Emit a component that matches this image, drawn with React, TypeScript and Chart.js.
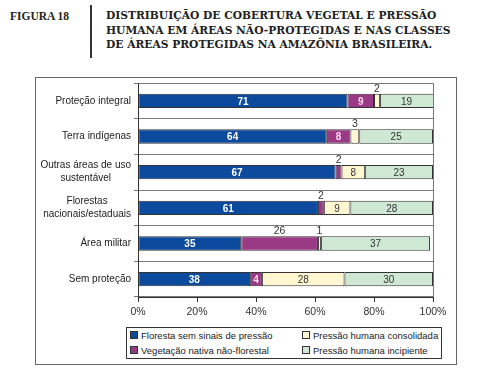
import React, { useEffect, useRef } from "react";
import { Chart, registerables } from "chart.js";
Chart.register(...registerables);

const categories: string[][] = [
  ["Proteção integral"],
  ["Terra indígenas"],
  ["Outras áreas de uso", "sustentável"],
  ["Florestas", "nacionais/estaduais"],
  ["Área militar"],
  ["Sem proteção"],
];
const seriesNames = [
  "Floresta sem sinais de pressão",
  "Vegetação nativa não-florestal",
  "Pressão humana consolidada",
  "Pressão humana incipiente",
];
const floresta = [71, 64, 67, 61, 35, 38];
const vegetacao = [9, 8, 2, 2, 26, 4];
const consolidada = [2, 3, 8, 9, 1, 28];
const incipiente = [19, 25, 23, 28, 37, 30];
const xTickLabels = ["0%", "20%", "40%", "60%", "80%", "100%"];

const fills = ["#0c4a9e", "#9a3a84", "#fff7d2", "#cfe8d4"];
const labelColors = ["#ffffff", "#ffd6f2", "#333333", "#333333"];
const labelBold = [true, true, false, false];
const FONT = "'Liberation Sans', Arial, sans-serif";

const aboveLabel = (ds: number, i: number, v: number) => v <= 3 || (ds === 1 && i === 4);

const helperPlugin = {
  id: "helper",
  afterDraw(chart: any) {
    const ctx = chart.ctx;
    const area = chart.chartArea;
    ctx.save();
    ctx.strokeStyle = "#7a7a7a";
    ctx.lineWidth = 1;
    ctx.beginPath();
    ctx.moveTo(Math.round(area.right) + 0.5, area.top);
    ctx.lineTo(Math.round(area.right) + 0.5, area.bottom);
    ctx.stroke();

    const y = chart.scales.y;
    ctx.font = `10px ${FONT}`;
    ctx.fillStyle = "#222";
    ctx.textBaseline = "middle";
    ctx.textAlign = "center";
    y.ticks.forEach((_t: any, i: number) => {
      const lines: string[] = categories[i];
      const w = Math.max(...lines.map((l) => ctx.measureText(l).width));
      const cx = area.left - 7 - w / 2;
      const cy = y.getPixelForTick(i);
      const lh = 13;
      lines.forEach((l, k) => {
        ctx.fillText(l, cx, cy + (k - (lines.length - 1) / 2) * lh);
      });
    });

    chart.data.datasets.forEach((dsObj: any, ds: number) => {
      const meta = chart.getDatasetMeta(ds);
      meta.data.forEach((el: any, i: number) => {
        const v = dsObj.data[i];
        const left = Math.min(el.x, el.base);
        const right = Math.min(Math.max(el.x, el.base), area.right);
        const cx = (left + right) / 2;
        if (aboveLabel(ds, i, v)) {
          ctx.font = `10.5px ${FONT}`;
          ctx.fillStyle = "#333";
          ctx.fillText(String(v), cx, el.y - el.height / 2 - 5);
        } else {
          ctx.font = `${labelBold[ds] ? "bold " : ""}10px ${FONT}`;
          ctx.fillStyle = labelColors[ds];
          ctx.fillText(String(v), cx, el.y + 1);
        }
      });
    });
    ctx.restore();
  },
};

export default function App() {
  const ref = useRef<HTMLCanvasElement>(null);
  useEffect(() => {
    const series = [floresta, vegetacao, consolidada, incipiente];
    const chart = new Chart(ref.current!, {
      type: "bar",
      data: {
        labels: categories.map((c) => c.join(" ")),
        datasets: series.map((d, k) => ({
          label: seriesNames[k],
          data: d,
          backgroundColor: fills[k],
          borderColor: "#333",
          borderWidth: 1,
          borderSkipped: false,
          barPercentage: 0.4,
          categoryPercentage: 1,
        })),
      },
      options: {
        indexAxis: "y",
        responsive: false,
        animation: false,
        layout: { padding: { left: 35, right: 54, top: 83, bottom: 58 } },
        plugins: { legend: { display: false }, tooltip: { enabled: false }, title: { display: false } },
        scales: {
          x: {
            stacked: true,
            min: 0,
            max: 100,
            afterFit: (s: any) => { s.height = 25; },
            ticks: {
              stepSize: 20,
              color: "#333",
              font: { family: FONT, size: 10.5 },
              padding: 4,
              callback: (_v: any, i: number) => xTickLabels[i],
            },
            grid: { drawOnChartArea: false, drawTicks: true, tickLength: 5, color: "#333" },
            border: { color: "#333", width: 1 },
          },
          y: {
            stacked: true,
            afterFit: (s: any) => { s.width = 103; },
            ticks: { color: "rgba(0,0,0,0)", font: { family: FONT, size: 10 } },
            grid: { offset: true, drawTicks: true, tickLength: 4, color: "#7a7a7a" },
            border: { color: "#333", width: 1 },
          },
        },
      },
      plugins: [helperPlugin],
    } as any);
    return () => chart.destroy();
  }, []);

  const legendItem = (k: number, x: number, y: number) => (
    <div key={k} style={{ position: "absolute", left: x, top: y, height: 14, display: "flex", alignItems: "center", whiteSpace: "nowrap" }}>
      <span style={{ display: "inline-block", width: 6, height: 6, border: "1px solid #333", background: fills[k], marginRight: 3 }} />
      <span style={{ fontFamily: FONT, fontSize: 9.5, color: "#222" }}>{seriesNames[k]}</span>
    </div>
  );

  return (
    <div style={{ position: "absolute", left: 0, top: 0, width: 487, height: 380, background: "#fff", overflow: "hidden" }}>
      <div style={{ position: "absolute", left: 10, top: 9, fontFamily: "'Liberation Serif', 'Times New Roman', serif", fontWeight: "bold", fontSize: 11.5, color: "#222", lineHeight: "15px" }}>
        FIGURA 18
      </div>
      <div style={{ position: "absolute", left: 90, top: 5, width: 1.5, height: 53, background: "#333" }} />
      <div style={{ position: "absolute", left: 106, top: 9, fontFamily: "'DejaVu Serif', serif", fontWeight: "bold", fontSize: 10.7, color: "#222", lineHeight: "14.5px", whiteSpace: "nowrap" }}>
        DISTRIBUIÇÃO DE COBERTURA VEGETAL E PRESSÃO<br />
        HUMANA EM ÁREAS NÃO-PROTEGIDAS E NAS CLASSES<br />
        DE ÁREAS PROTEGIDAS NA AMAZÔNIA BRASILEIRA.
      </div>
      <div style={{ position: "absolute", left: 35, top: 77, width: 420, height: 286, border: "1px solid #666" }} />
      <canvas ref={ref} width={487} height={380} style={{ position: "absolute", left: 0, top: 0, width: 487, height: 380 }} />
      <div style={{ position: "absolute", left: 126, top: 327, width: 314, height: 30, border: "1px solid #333", background: "#fff" }} />
      {legendItem(0, 130, 328)}
      {legendItem(1, 130, 343)}
      {legendItem(2, 302, 328)}
      {legendItem(3, 302, 343)}
    </div>
  );
}
